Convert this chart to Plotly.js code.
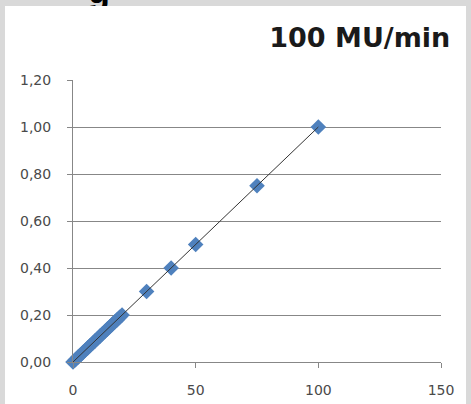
<!DOCTYPE html>
<html>
<head>
<meta charset="utf-8">
<script src="https://cdn.plot.ly/plotly-3.0.1.min.js"></script>
<style>
html,body{margin:0;padding:0;background:#d9d9d9;width:471px;height:404px;overflow:hidden;position:relative;}
#chart{position:absolute;left:5px;top:6px;width:461px;height:398px;background:#fff;}
#frag{position:absolute;left:88px;top:-30px;font:bold 36px "Liberation Sans",sans-serif;color:#000;}
</style>
</head>
<body>
<div id="frag">g</div>
<div id="chart"></div>
<script>
// Data
const doseX = [0,1,2,3,4,5,6,7,8,9,10,11,12,13,14,15,16,17,18,19,20,30,40,50,75,100];
const doseY = [0,0.01,0.02,0.03,0.04,0.05,0.06,0.07,0.08,0.09,0.10,0.11,0.12,0.13,0.14,0.15,0.16,0.17,0.18,0.19,0.20,0.30,0.40,0.50,0.75,1.00];
const fitX = [0,100];
const fitY = [0,1];
const chartTitle = "100 MU/min";
const yTicks = [0,0.2,0.4,0.6,0.8,1.0,1.2];
const xTicks = [0,50,100,150];

const traces = [
  {x: doseX, y: doseY, type:'scatter', mode:'markers',
   marker:{symbol:'diamond', size:12, color:'#4f81bd', line:{width:0}}, showlegend:false, cliponaxis:false},
  {x: fitX, y: fitY, type:'scatter', mode:'lines',
   line:{color:'#333333', width:1}, showlegend:false, cliponaxis:false}
];

const layout = {
  width:461, height:398,
  margin:{l:68, r:25, t:74, b:42},
  paper_bgcolor:'#ffffff', plot_bgcolor:'#ffffff',
  separators:',.',
  font:{family:'"DejaVu Sans", sans-serif', size:14, color:'#4a4a4a'},
  title:{text:'<b>'+chartTitle+'</b>', xref:'container', yref:'container', x:0.966, xanchor:'right', y:0.92, yanchor:'middle',
         font:{family:'"DejaVu Sans", sans-serif', size:27, color:'#1a1a1a'}},
  xaxis:{range:[0,150], tickvals:xTicks, ticks:'outside', ticklen:5, tickcolor:'#878787',
         showline:true, linecolor:'#878787', linewidth:1, showgrid:false, zeroline:false,
         ticklabelstandoff:10, fixedrange:true},
  yaxis:{range:[0,1.2], tickvals:yTicks, tickformat:'.2f', ticks:'outside', ticklen:5, tickcolor:'#878787',
         showline:true, linecolor:'#878787', linewidth:1, showgrid:true, gridcolor:'#878787', gridwidth:1,
         zeroline:false, ticklabelstandoff:13, fixedrange:true}
};

Plotly.newPlot('chart', traces, layout, {staticPlot:true, displayModeBar:false});
</script>
</body>
</html>
